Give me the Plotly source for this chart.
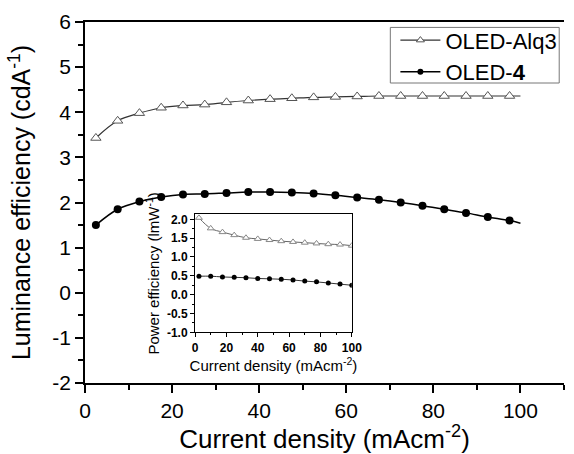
import plotly.graph_objects as go

# ---------------- data ----------------
x_main = [2.5, 7.5, 12.5, 17.5, 22.5, 27.5, 32.5, 37.5, 42.5, 47.5,
          52.5, 57.5, 62.5, 67.5, 72.5, 77.5, 82.5, 87.5, 92.5, 97.5]
alq3_main = [3.43, 3.81, 3.98, 4.10, 4.15, 4.17, 4.22, 4.26, 4.29, 4.31,
             4.33, 4.34, 4.35, 4.36, 4.36, 4.36, 4.36, 4.36, 4.36, 4.36]
oled4_main = [1.50, 1.85, 2.02, 2.12, 2.18, 2.19, 2.21, 2.23, 2.23, 2.22,
              2.20, 2.16, 2.11, 2.06, 2.00, 1.93, 1.85, 1.77, 1.68, 1.60]
x_fit_end = 100
alq3_fit_end = 4.36
oled4_fit_end = 1.54

x_inset = [2.5, 10, 17.5, 25, 32.5, 40, 47.5, 55, 62.5, 70, 77.5, 85, 92.5, 100]
alq3_inset = [2.04, 1.76, 1.66, 1.58, 1.51, 1.48, 1.45, 1.42, 1.40, 1.38, 1.36, 1.34, 1.33, 1.30]
oled4_inset = [0.49, 0.49, 0.47, 0.46, 0.45, 0.43, 0.42, 0.41, 0.39, 0.36, 0.34, 0.31, 0.28, 0.25]

main_x_ticks = [0, 20, 40, 60, 80, 100]
main_y_ticks = [-2, -1, 0, 1, 2, 3, 4, 5, 6]
main_y_labels = ["-2", "-1", "0", "1", "2", "3", "4", "5", "6"]
inset_x_ticks = [0, 20, 40, 60, 80, 100]
inset_y_ticks = [-1.0, -0.5, 0.0, 0.5, 1.0, 1.5, 2.0]
inset_y_labels = ["-1.0", "-0.5", "0.0", "0.5", "1.0", "1.5", "2.0"]

FONT = "Arial, Liberation Sans, sans-serif"

fig = go.Figure()

# main: fit lines
fig.add_trace(go.Scatter(x=x_main + [x_fit_end], y=alq3_main + [alq3_fit_end],
                         mode="lines", line=dict(color="#333333", width=1.2, shape="spline"),
                         showlegend=False, hoverinfo="skip"))
fig.add_trace(go.Scatter(x=x_main + [x_fit_end], y=oled4_main + [oled4_fit_end],
                         mode="lines", line=dict(color="#000000", width=1.5, shape="spline"),
                         showlegend=False, hoverinfo="skip"))
# main: markers
fig.add_trace(go.Scatter(x=x_main, y=alq3_main, mode="markers",
                         marker=dict(symbol="triangle-up", size=9, color="white",
                                     line=dict(color="#555555", width=1)),
                         showlegend=False))
fig.add_trace(go.Scatter(x=x_main, y=oled4_main, mode="markers",
                         marker=dict(symbol="circle", size=8, color="black"),
                         showlegend=False))
# legend entries
fig.add_trace(go.Scatter(x=[None], y=[None], mode="lines+markers", name="OLED-Alq3",
                         line=dict(color="#333333", width=1.2),
                         marker=dict(symbol="triangle-up", size=7, color="white",
                                     line=dict(color="#555555", width=1))))
fig.add_trace(go.Scatter(x=[None], y=[None], mode="lines+markers", name="OLED-<b>4</b>",
                         line=dict(color="black", width=1.5),
                         marker=dict(symbol="circle", size=6, color="black")))

# inset
fig.add_trace(go.Scatter(x=x_inset, y=alq3_inset, mode="lines+markers", xaxis="x2", yaxis="y2",
                         line=dict(color="#666666", width=1, shape="spline"),
                         marker=dict(symbol="triangle-up", size=6, color="white",
                                     line=dict(color="#888888", width=1)),
                         showlegend=False))
fig.add_trace(go.Scatter(x=x_inset, y=oled4_inset, mode="lines+markers", xaxis="x2", yaxis="y2",
                         line=dict(color="#333333", width=1, shape="spline"),
                         marker=dict(symbol="circle", size=5, color="black"),
                         showlegend=False))

# legend frame
fig.add_shape(type="rect", xref="paper", yref="paper",
              x0=0.6374, x1=0.99, y0=0.831, y1=0.985,
              line=dict(color="#777777", width=1), fillcolor="white", layer="above")

fig.update_layout(
    width=574, height=454,
    margin=dict(l=85, r=0, t=22, b=71),
    paper_bgcolor="white", plot_bgcolor="white",
    font=dict(family=FONT, color="black"),
    xaxis=dict(range=[0, 110], tickvals=main_x_ticks, ticks="outside", ticklen=8, tickwidth=1.5,
               tickcolor="black", showline=True, linecolor="black", linewidth=1.8, mirror=True,
               showgrid=False, zeroline=False, tickfont=dict(size=21),
               minor=dict(dtick=10, ticks="outside", ticklen=5, tickwidth=1.5, tickcolor="black"),
               title=dict(text="Current density (mAcm<sup>-2</sup>)", font=dict(size=26), standoff=9)),
    yaxis=dict(range=[-2, 6], tickvals=main_y_ticks, ticktext=main_y_labels,
               ticks="outside", ticklen=8, tickwidth=1.5,
               tickcolor="black", showline=True, linecolor="black", linewidth=1.8,
               showgrid=False, zeroline=False, tickfont=dict(size=21),
               minor=dict(dtick=0.5, ticks="outside", ticklen=5, tickwidth=1.5, tickcolor="black"),
               title=dict(text="Luminance efficiency (cdA<sup>-1</sup>)", font=dict(size=25), standoff=14)),
    xaxis2=dict(domain=[0.2297, 0.557], anchor="y2", range=[0, 100], tickvals=inset_x_ticks,
                ticks="outside", ticklen=4, tickwidth=1, tickcolor="black",
                showline=True, linecolor="black", linewidth=1, mirror=True,
                showgrid=False, zeroline=False,
                tickfont=dict(size=12, family=FONT, weight="bold"),
                minor=dict(dtick=10, ticks="outside", ticklen=2, tickwidth=1, tickcolor="black"),
                title=dict(text="Current density (mAcm<sup>-2</sup>)", font=dict(size=15), standoff=2)),
    yaxis2=dict(domain=[0.1403, 0.467], anchor="x2", range=[-1, 2.13], tickvals=inset_y_ticks,
                ticktext=inset_y_labels, ticks="outside", ticklen=4, tickwidth=1, tickcolor="black",
                showline=True, linecolor="black", linewidth=1, mirror=True,
                showgrid=False, zeroline=False,
                tickfont=dict(size=12, family=FONT, weight="bold"),
                minor=dict(dtick=0.25, ticks="outside", ticklen=2, tickwidth=1, tickcolor="black"),
                title=dict(text="Power efficiency (lmW<sup>-1</sup>)", font=dict(size=15), standoff=3)),
    legend=dict(x=0.648, y=1.0075, xanchor="left", yanchor="top",
                bgcolor="rgba(0,0,0,0)", borderwidth=0,
                font=dict(size=22, family=FONT), tracegroupgap=0, itemwidth=40),
)

fig.write_html("out.html")
